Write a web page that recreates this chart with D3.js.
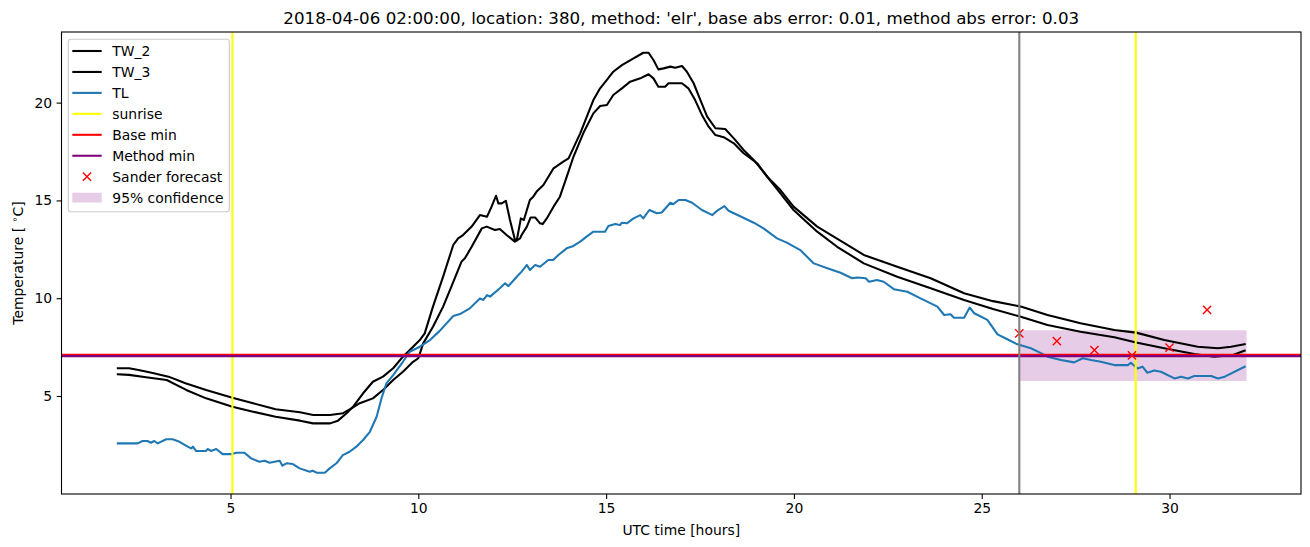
<!DOCTYPE html>
<html><head><meta charset="utf-8">
<script src="https://cdn.jsdelivr.net/npm/d3@7"></script>
<style>body{margin:0;background:#fff}svg{display:block;font-family:"DejaVu Sans",sans-serif}</style>
</head><body><svg id="c" width="1310" height="547"></svg>
<script>
// ---- data ----
const titleText = "2018-04-06 02:00:00, location: 380, method: 'elr', base abs error: 0.01, method abs error: 0.03";
const xTicks = [5, 10, 15, 20, 25, 30];
const yTicks = [5, 10, 15, 20];

const tw2Time = [2.0,2.3,2.55,2.9,3.35,3.8,4.35,5.05,5.6,6.2,6.85,7.2,7.65,8.0,8.22,8.44,8.79,9.06,9.33,9.59,9.86,10.0,10.13,10.39,10.66,10.88,11.15,11.24,11.42,11.69,11.82,12.04,12.17,12.35,12.57,12.71,12.75,12.89,12.99,13.11,13.24,13.31,13.42,13.6,13.77,13.95,14.13,14.39,14.66,14.84,15.02,15.19,15.42,15.64,15.91,16.13,16.26,16.39,16.57,16.66,17.02,17.19,17.37,17.55,17.73,17.91,18.13,18.4,18.66,19.02,19.29,19.64,19.99,20.62,21.15,21.86,22.75,23.64,24.53,25.3,26.04,26.75,27.63,28.53,29.11,29.86,30.66,31.19,31.69,32.0];
const tw2Value = [6.42,6.42,6.33,6.19,5.99,5.65,5.31,4.91,4.63,4.32,4.17,4.03,4.03,4.12,4.37,4.63,4.88,5.31,5.82,6.24,6.75,6.93,7.69,8.54,9.57,10.59,11.87,12.04,12.63,13.57,13.66,13.49,13.54,13.23,12.89,13.06,13.23,13.66,14.13,14.13,13.83,13.79,14.08,14.68,15.19,16.2,17.23,18.43,19.45,19.83,19.88,20.39,20.73,21.07,21.24,21.45,21.24,20.81,20.81,20.99,20.99,20.73,20.13,19.37,18.77,18.34,18.23,17.92,17.41,16.9,16.21,15.36,14.51,13.4,12.63,11.78,11.1,10.51,9.91,9.45,9.05,8.63,8.29,8.0,7.73,7.44,7.15,7.01,7.1,7.32];

const tw3Time = [2.0,2.3,2.75,3.3,3.82,4.35,5.05,5.6,6.2,6.85,7.2,7.65,7.86,8.09,8.26,8.53,8.79,9.06,9.33,9.59,9.86,10.04,10.17,10.39,10.66,10.93,11.06,11.19,11.42,11.64,11.83,11.95,12.07,12.13,12.22,12.33,12.44,12.57,12.62,12.73,12.81,12.97,13.06,13.15,13.33,13.6,13.86,14.0,14.31,14.66,14.84,15.02,15.19,15.42,15.73,15.99,16.13,16.26,16.39,16.53,16.71,16.84,17.02,17.15,17.33,17.51,17.69,17.91,18.17,18.4,18.66,18.93,19.29,19.64,19.99,20.62,21.86,22.75,23.64,24.53,25.3,26.04,26.75,27.63,28.53,29.11,29.86,30.75,31.29,31.64,32.0];
const tw3Value = [6.11,6.08,5.96,5.82,5.31,4.88,4.45,4.2,3.94,3.74,3.6,3.6,3.74,4.12,4.45,5.14,5.73,5.99,6.42,7.01,7.52,7.86,8.2,9.57,11.1,12.72,13.06,13.23,13.66,14.25,14.17,14.68,15.24,14.85,14.85,14.98,14.0,13.0,12.95,14.08,14.0,15.02,15.19,15.45,15.79,16.64,16.98,17.15,18.43,20.13,20.73,21.16,21.58,21.92,22.26,22.55,22.55,22.18,21.7,21.75,21.84,21.78,21.87,21.58,20.99,20.13,19.28,18.69,18.65,18.17,17.58,17.07,16.21,15.53,14.68,13.66,12.21,11.61,11.02,10.25,9.85,9.57,9.14,8.72,8.37,8.24,7.86,7.52,7.44,7.52,7.65];

const tlTime = [2.0,2.53,2.66,2.79,2.88,2.97,3.06,3.29,3.46,3.64,3.86,3.95,4.0,4.08,4.35,4.39,4.48,4.62,4.79,5.05,5.15,5.37,5.55,5.77,5.91,6.04,6.17,6.31,6.38,6.49,6.66,6.84,7.11,7.19,7.29,7.51,7.64,7.82,7.99,8.17,8.35,8.53,8.71,8.89,9.02,9.15,9.33,9.59,9.77,10.04,10.31,10.57,10.93,11.11,11.37,11.64,11.73,11.83,11.91,12.17,12.31,12.4,12.62,12.75,12.89,12.97,13.11,13.24,13.46,13.59,13.73,13.95,14.13,14.31,14.48,14.66,14.97,15.06,15.24,15.37,15.42,15.55,15.73,15.91,15.99,16.15,16.35,16.48,16.71,16.79,16.93,17.11,17.29,17.55,17.83,17.95,18.15,18.26,18.57,18.93,19.19,19.55,19.81,20.17,20.53,20.89,21.24,21.55,21.69,21.91,22.0,22.21,22.39,22.66,23.02,23.37,23.82,24.0,24.17,24.26,24.53,24.68,24.8,25.15,25.42,25.68,25.95,26.31,26.59,26.75,27.11,27.46,27.69,27.91,28.17,28.53,28.89,28.97,29.15,29.28,29.41,29.59,29.77,30.13,30.31,30.49,30.66,31.11,31.29,31.47,32.0];
const tlValue = [2.58,2.58,2.7,2.7,2.61,2.7,2.58,2.79,2.79,2.66,2.41,2.32,2.41,2.19,2.19,2.29,2.19,2.29,2.03,2.03,2.1,2.1,1.81,1.64,1.69,1.59,1.64,1.69,1.44,1.56,1.52,1.3,1.13,1.18,1.08,1.08,1.3,1.56,1.98,2.15,2.41,2.75,3.17,3.94,4.88,5.65,6.07,6.75,7.26,7.52,7.86,8.33,9.09,9.19,9.48,9.99,9.91,10.16,10.08,10.51,10.76,10.62,11.1,11.36,11.7,11.44,11.7,11.61,11.95,11.95,12.21,12.55,12.67,12.89,13.15,13.4,13.4,13.69,13.79,13.74,13.86,13.83,14.08,14.25,14.08,14.51,14.34,14.38,14.88,14.81,15.02,15.02,14.88,14.51,14.25,14.47,14.71,14.47,14.19,13.86,13.57,13.06,12.84,12.46,11.78,11.53,11.3,11.02,11.06,11.02,10.84,10.93,10.84,10.46,10.33,9.99,9.57,9.14,9.18,9.0,9.0,9.52,9.23,8.89,8.15,7.9,7.64,7.44,7.18,7.01,6.84,6.72,6.93,6.84,6.75,6.58,6.58,6.7,6.41,6.5,6.19,6.3,6.24,5.9,5.99,5.9,6.02,6.02,5.9,5.99,6.5];

const sunriseTimes = [5.05, 29.1];
const forecastStart = 26.0;
const baseMin = 7.11;
const methodMin = 7.04;
const forecastTime = [26, 27, 28, 29, 30, 31];
const forecastValue = [8.2, 7.81, 7.35, 7.08, 7.47, 9.4];
const confTime = [26.0, 32.05];
const confLow = [5.77, 5.77];
const confHigh = [8.36, 8.36];

const legendLabels = ["TW_2", "TW_3", "TL", "sunrise", "Base min", "Method min", "Sander forecast", "95% confidence"];

// ---- drawing ----
const svg = d3.select("#c");
const L = 61.5, R = 1301, T = 32, B = 494;
const x = d3.scaleLinear().domain([0.5, 33.5]).range([L, R]);
const y = d3.scaleLinear().domain([0, 23.61]).range([493.8, T]);

svg.append("defs").append("clipPath").attr("id", "clip")
  .append("rect").attr("x", L).attr("y", T).attr("width", R - L).attr("height", B - T);
const g = svg.append("g").attr("clip-path", "url(#clip)");

// confidence band
const conf = confTime.map((t, i) => ({ t, lo: confLow[i], hi: confHigh[i] }));
g.append("path").datum(conf)
  .attr("d", d3.area().x(d => x(d.t)).y0(d => y(d.lo)).y1(d => y(d.hi)))
  .attr("fill", "#800080").attr("fill-opacity", 0.2);

const line = d3.line().x(d => x(d[0])).y(d => y(d[1]));
function series(tt, vv, color) {
  g.append("path").datum(tt.map((t, i) => [t, vv[i]]))
    .attr("d", line).attr("fill", "none").attr("stroke", color)
    .attr("stroke-width", 2.08).attr("stroke-linejoin", "round").attr("stroke-linecap", "square");
}
series(tw2Time, tw2Value, "#000000");
series(tw3Time, tw3Value, "#000000");
series(tlTime, tlValue, "#1f77b4");

// sunrise lines
sunriseTimes.forEach(t => g.append("line").attr("x1", x(t)).attr("x2", x(t)).attr("y1", T).attr("y2", B)
  .attr("stroke", "#ffff00").attr("stroke-width", 2.08));
// base & method min
g.append("line").attr("x1", L).attr("x2", R).attr("y1", y(baseMin)).attr("y2", y(baseMin))
  .attr("stroke", "#ff0000").attr("stroke-width", 2.08);
g.append("line").attr("x1", L).attr("x2", R).attr("y1", y(methodMin)).attr("y2", y(methodMin))
  .attr("stroke", "#800080").attr("stroke-width", 2.08);
// forecast markers
const ms = 4.1;
forecastTime.forEach((t, i) => {
  const cx = x(t), cy = y(forecastValue[i]);
  g.append("path").attr("d", `M${cx-ms},${cy-ms}L${cx+ms},${cy+ms}M${cx-ms},${cy+ms}L${cx+ms},${cy-ms}`)
    .attr("stroke", "#ff0000").attr("stroke-width", 1.4).attr("fill", "none");
});
// forecast start line
g.append("line").attr("x1", x(forecastStart)).attr("x2", x(forecastStart)).attr("y1", T).attr("y2", B)
  .attr("stroke", "#808080").attr("stroke-width", 2.08);

// axes
const xa = svg.append("g").attr("transform", `translate(0,${B})`)
  .call(d3.axisBottom(x).tickValues(xTicks).tickFormat(d3.format("d")).tickSize(4.9).tickPadding(4.5));
const ya = svg.append("g").attr("transform", `translate(${L},0)`)
  .call(d3.axisLeft(y).tickValues(yTicks).tickFormat(d3.format("d")).tickSize(4.9).tickPadding(4.5));
[xa, ya].forEach(a => {
  a.select(".domain").remove();
  a.selectAll("line").attr("stroke", "#000").attr("stroke-width", 1.1);
  a.selectAll("text").attr("font-size", 13.9).attr("fill", "#000").attr("font-family", "DejaVu Sans");
});
svg.append("rect").attr("x", L).attr("y", T).attr("width", R - L).attr("height", B - T)
  .attr("fill", "none").attr("stroke", "#000").attr("stroke-width", 1.1);

// titles
svg.append("text").attr("x", (L + R) / 2).attr("y", 24).attr("text-anchor", "middle")
  .attr("font-size", 16.7).text(titleText);
svg.append("text").attr("x", (L + R) / 2).attr("y", 535).attr("text-anchor", "middle")
  .attr("font-size", 13.9).text("UTC time [hours]");
const yl = svg.append("text").attr("transform", `translate(23,${(T + B) / 2}) rotate(-90)`)
  .attr("text-anchor", "middle").attr("font-size", 13.9);
yl.append("tspan").text("Temperature [ ");
yl.append("tspan").attr("font-size", 9.7).attr("dy", -5).text("∘");
yl.append("tspan").attr("dy", 5).text("C]");

// legend
const lg = svg.append("g");
lg.append("rect").attr("x", 68.3).attr("y", 39.3).attr("width", 161).attr("height", 172.4)
  .attr("rx", 2.8).attr("fill", "#fff").attr("fill-opacity", 0.8).attr("stroke", "#cccccc").attr("stroke-width", 1.1);
const lcolors = ["#000000", "#000000", "#1f77b4", "#ffff00", "#ff0000", "#800080"];
legendLabels.forEach((lab, i) => {
  const cy = 51 + i * 20.95;
  if (i < 6) {
    lg.append("line").attr("x1", 72.3).attr("x2", 101.7).attr("y1", cy).attr("y2", cy)
      .attr("stroke", lcolors[i]).attr("stroke-width", 2.08);
  } else if (i === 6) {
    const cx = 87;
    lg.append("path").attr("d", `M${cx-ms},${cy-ms}L${cx+ms},${cy+ms}M${cx-ms},${cy+ms}L${cx+ms},${cy-ms}`)
      .attr("stroke", "#ff0000").attr("stroke-width", 1.4);
  } else {
    lg.append("rect").attr("x", 72.3).attr("y", cy - 4.9).attr("width", 29.4).attr("height", 9.8)
      .attr("fill", "#800080").attr("fill-opacity", 0.2);
  }
  lg.append("text").attr("x", 112.3).attr("y", cy + 5).attr("font-size", 13.9).text(lab);
});
</script></body></html>
